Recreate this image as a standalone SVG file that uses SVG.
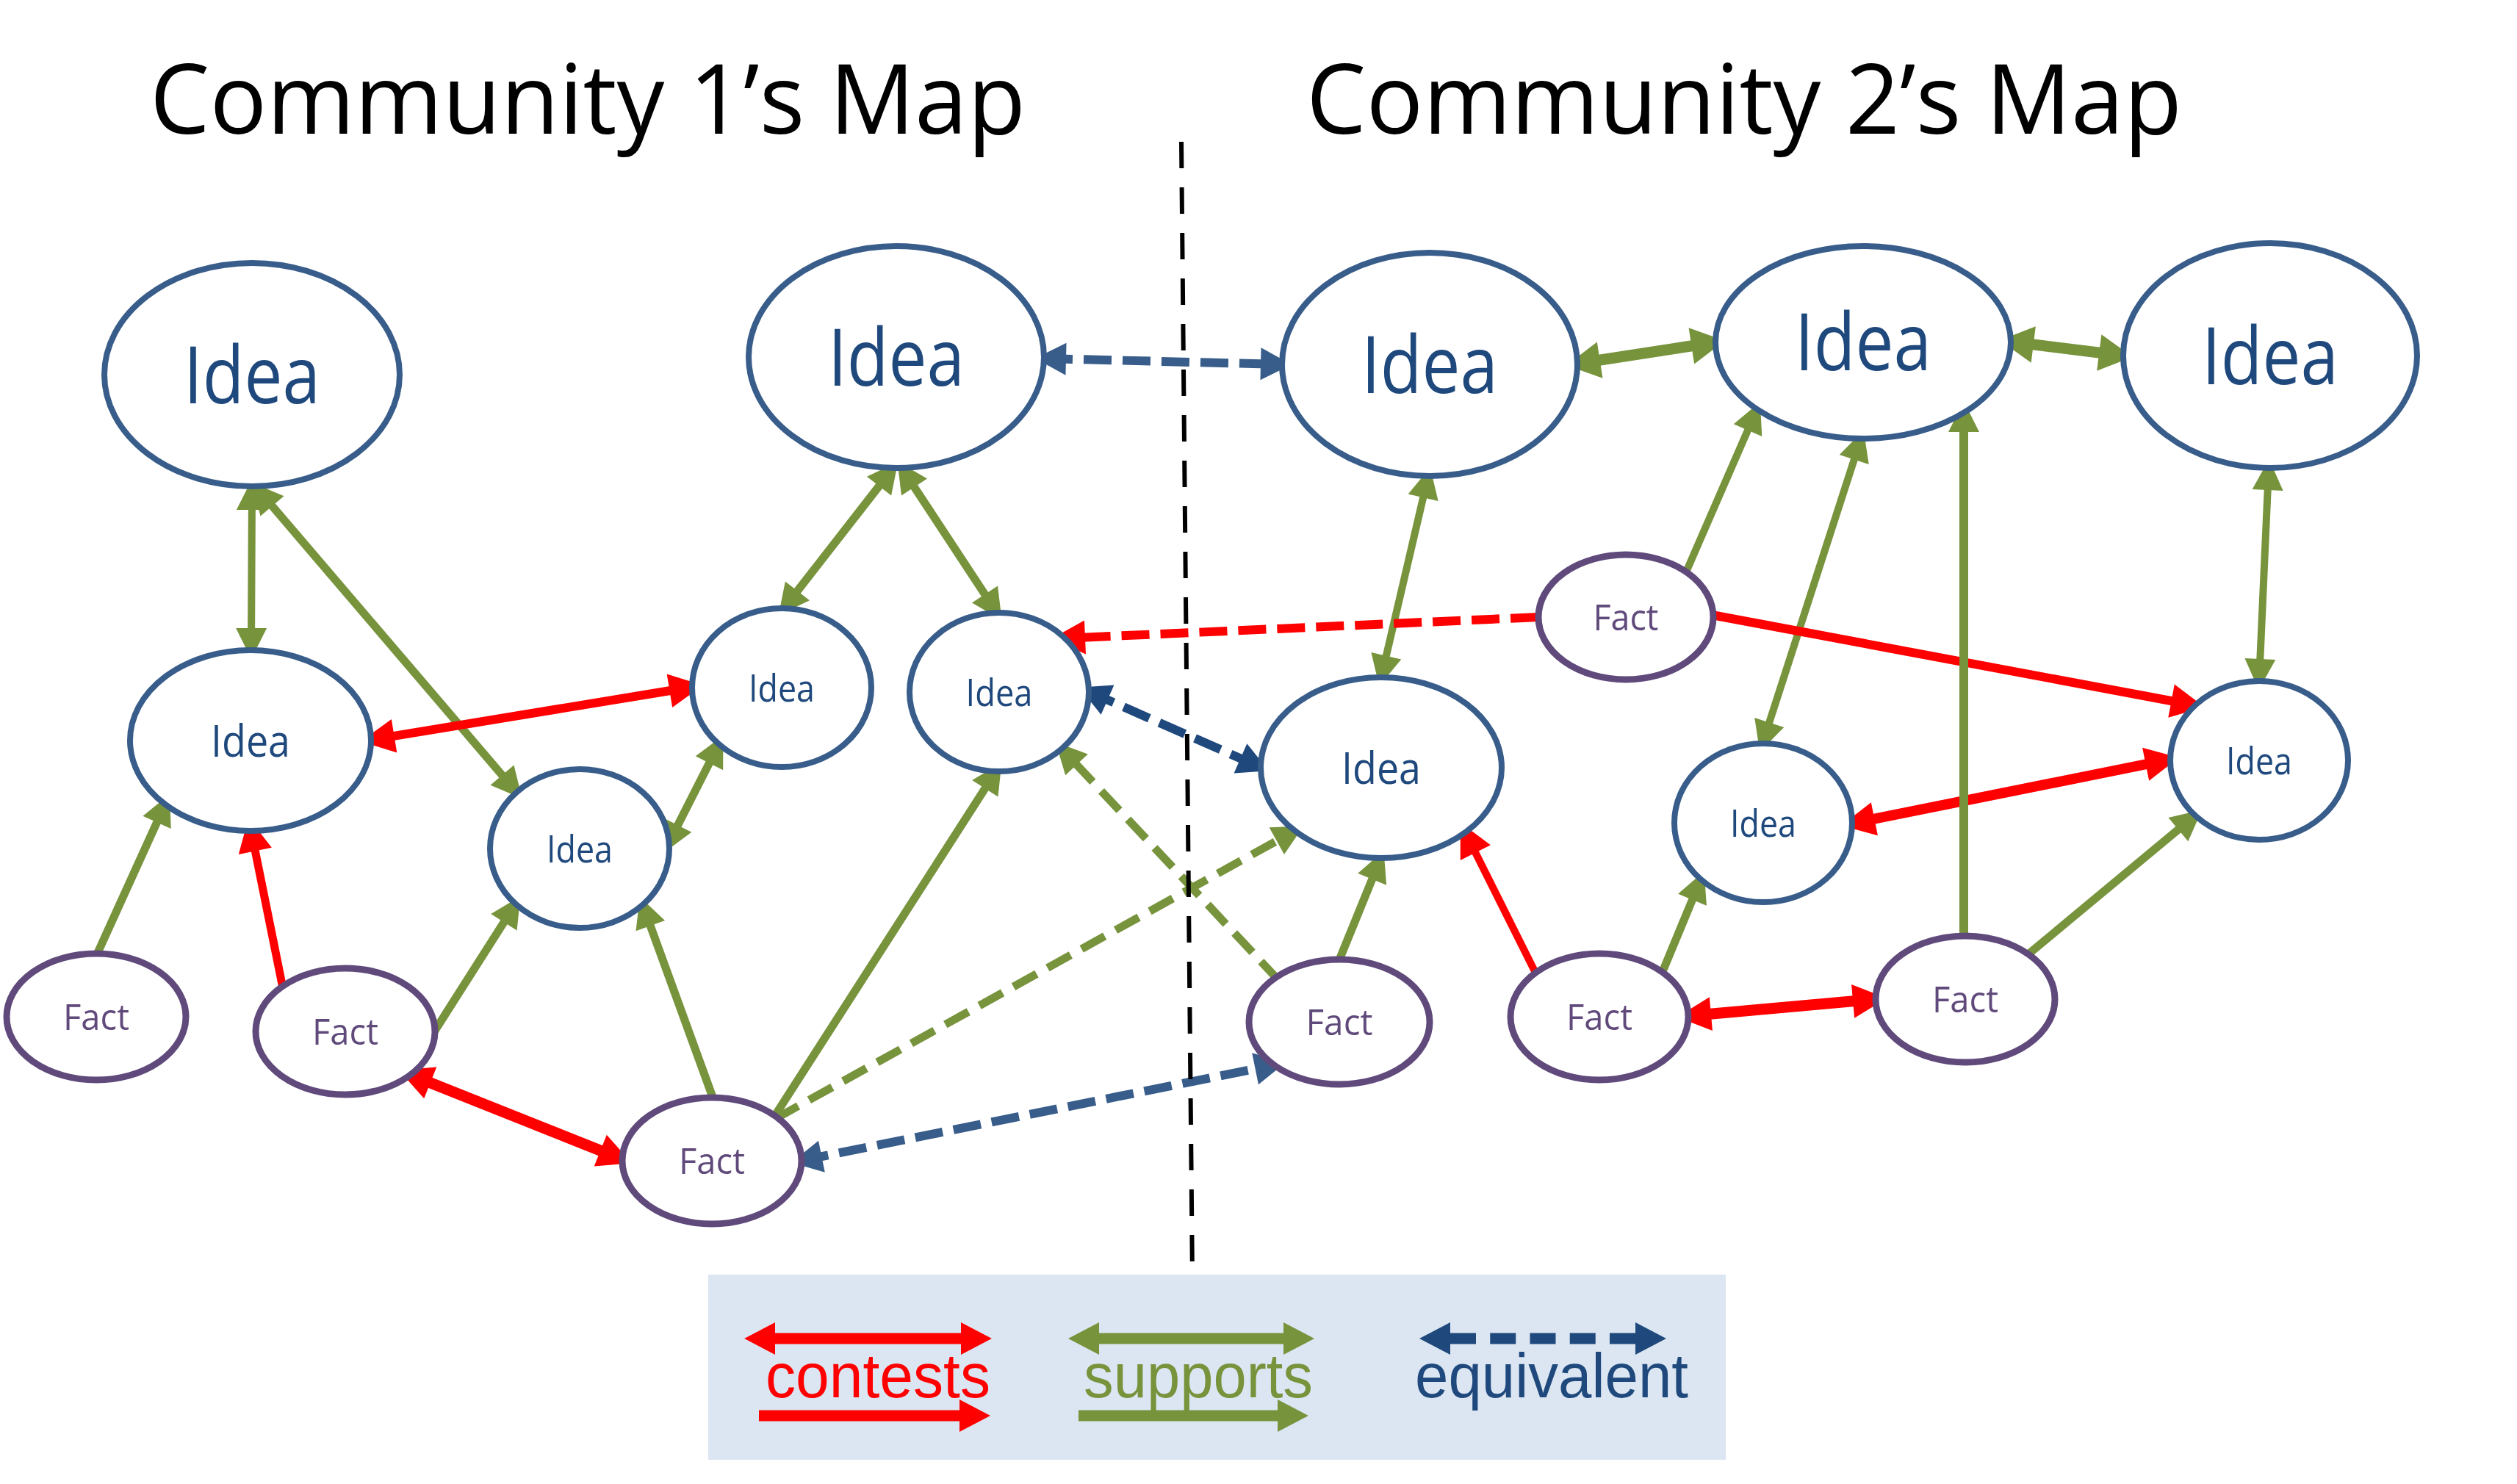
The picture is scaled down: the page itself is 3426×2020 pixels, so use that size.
<svg xmlns="http://www.w3.org/2000/svg" width="3426" height="2020" viewBox="0 0 3426 2020">
<style>
.idea ellipse{fill:#fff;stroke:#385d8a;stroke-width:8}
.fact ellipse{fill:#fff;stroke:#604a7b;stroke-width:9}
.idea text{fill:#1f497d;font-family:"Open Sans","Liberation Sans",sans-serif;text-anchor:middle}
.fact text{fill:#604a7b;font-family:"Open Sans","Liberation Sans",sans-serif;text-anchor:middle;font-size:50px}
.big text{font-size:108px}
.mid text{font-size:60px}
.small text{font-size:52px}
.title{font-family:"Open Sans","Liberation Sans",sans-serif;font-size:132px;fill:#000}
#connectors path{fill:none;stroke-linecap:butt}
.g{stroke:#77933c}
.r{stroke:#ff0000}
.b{stroke:#385d8a}
.db{stroke:#1f497d}
.dash{stroke-dasharray:38 15}
.gd{stroke-dasharray:36 17}
.lgtxt{font-family:"Liberation Sans",Arial,sans-serif;font-size:85px}
</style>
<defs>
<marker id="mg" markerUnits="userSpaceOnUse" markerWidth="42" markerHeight="42" refX="30" refY="21" orient="auto-start-reverse" overflow="visible"><path d="M0,0 L42,21 L0,42 z" fill="#77933c"/></marker>
<marker id="mgT" markerUnits="userSpaceOnUse" markerWidth="46" markerHeight="50" refX="32" refY="25" orient="auto-start-reverse" overflow="visible"><path d="M0,0 L46,25 L0,50 z" fill="#77933c"/></marker>
<marker id="mr" markerUnits="userSpaceOnUse" markerWidth="46" markerHeight="46" refX="32" refY="23" orient="auto-start-reverse" overflow="visible"><path d="M0,0 L46,23 L0,46 z" fill="#ff0000"/></marker>
<marker id="mb" markerUnits="userSpaceOnUse" markerWidth="42" markerHeight="44" refX="29" refY="22" orient="auto-start-reverse" overflow="visible"><path d="M0,0 L42,22 L0,44 z" fill="#385d8a"/></marker>
<marker id="mdb" markerUnits="userSpaceOnUse" markerWidth="42" markerHeight="44" refX="29" refY="22" orient="auto-start-reverse" overflow="visible"><path d="M0,0 L42,22 L0,44 z" fill="#1f497d"/></marker>
<marker id="lr" markerUnits="userSpaceOnUse" markerWidth="42" markerHeight="44" refX="0" refY="22" orient="auto-start-reverse" overflow="visible"><path d="M0,0 L42,22 L0,44 z" fill="#ff0000"/></marker>
<marker id="lg" markerUnits="userSpaceOnUse" markerWidth="42" markerHeight="44" refX="0" refY="22" orient="auto-start-reverse" overflow="visible"><path d="M0,0 L42,22 L0,44 z" fill="#77933c"/></marker>
<marker id="lb" markerUnits="userSpaceOnUse" markerWidth="42" markerHeight="44" refX="0" refY="22" orient="auto-start-reverse" overflow="visible"><path d="M0,0 L42,22 L0,44 z" fill="#1f497d"/></marker>
</defs>
<rect width="3426" height="2020" fill="#fff"/>
<text class="title" x="204" y="182" textLength="1192" lengthAdjust="spacingAndGlyphs">Community 1’s Map</text>
<text class="title" x="1778" y="182" textLength="1192" lengthAdjust="spacingAndGlyphs">Community 2’s Map</text>

<g id="connectors">
<path class="g" stroke-width="10" marker-start="url(#mg)" marker-end="url(#mg)" d="M343,664 L342,885"/>
<path class="g" stroke-width="11" marker-start="url(#mg)" marker-end="url(#mg)" d="M351,666 L703,1078"/>
<path class="g" stroke-width="11" marker-start="url(#mg)" marker-end="url(#mg)" d="M909,1150 L979,1012"/>
<path class="g" stroke-width="11" marker-start="url(#mg)" marker-end="url(#mg)" d="M1215,638 L1067,828"/>
<path class="g" stroke-width="11" marker-start="url(#mg)" marker-end="url(#mg)" d="M1228,638 L1357,834"/>
<path class="g" stroke-width="10" marker-start="url(#mg)" marker-end="url(#mg)" d="M1944,648 L1880,922"/>
<path class="g" stroke-width="10" marker-start="url(#mg)" marker-end="url(#mg)" d="M2533,597 L2399,1012"/>
<path class="g" stroke-width="10" marker-start="url(#mg)" marker-end="url(#mg)" d="M3088,637 L3075,927"/>
<path class="g" stroke-width="15" marker-start="url(#mgT)" marker-end="url(#mgT)" d="M2146,495 L2334,466"/>
<path class="g" stroke-width="15" marker-start="url(#mgT)" marker-end="url(#mgT)" d="M2736,465 L2889,484"/>
<path class="g" stroke-width="11" marker-end="url(#mg)" d="M132,1299 L226,1092"/>
<path class="g" stroke-width="11" marker-end="url(#mg)" d="M590,1406 L702,1230"/>
<path class="g" stroke-width="11" marker-end="url(#mg)" d="M971,1496 L875,1232"/>
<path class="g" stroke-width="11" marker-end="url(#mg)" d="M1052,1523 L1357,1048"/>
<path class="g" stroke-width="11" marker-end="url(#mg)" d="M1822,1309 L1879,1169"/>
<path class="g" stroke-width="10" marker-end="url(#mg)" d="M2294,781 L2391,558"/>
<path class="g" stroke-width="11" marker-end="url(#mg)" d="M2262,1325 L2315,1197"/>
<path class="g" stroke-width="11" marker-end="url(#mg)" d="M2757,1302 L2988,1110"/>
<path class="g gd" stroke-width="11" marker-end="url(#mg)" d="M1055,1523 L1764,1130"/>
<path class="g gd" stroke-width="11" marker-end="url(#mg)" d="M1741,1335 L1445,1019"/>
<path class="r" stroke-width="12" marker-start="url(#mr)" marker-end="url(#mr)" d="M505,1007 L943,935"/>
<path class="r" stroke-width="15" marker-start="url(#mr)" marker-end="url(#mr)" d="M556,1462 L847,1578"/>
<path class="r" stroke-width="14" marker-start="url(#mr)" marker-end="url(#mr)" d="M2520,1121 L2952,1034"/>
<path class="r" stroke-width="15" marker-start="url(#mr)" marker-end="url(#mr)" d="M2297,1383 L2554,1360"/>
<path class="r" stroke-width="11" marker-end="url(#mr)" d="M385,1345 L341,1127"/>
<path class="r" stroke-width="10" marker-end="url(#mr)" d="M2090,1324 L1994,1132"/>
<path class="r" stroke-width="12" marker-end="url(#mr)" d="M2330,837 L2987,960"/>
<path class="r dash" stroke-width="12" marker-end="url(#mr)" d="M2094,840 L1445,869"/>
<path class="g" stroke-width="12" marker-end="url(#mg)" d="M2673,1276 L2673,558"/>
<path class="b dash" stroke-width="12" marker-start="url(#mb)" marker-end="url(#mb)" d="M1422,488 L1745,496"/>
<path class="b dash" stroke-width="12" marker-start="url(#mb)" marker-end="url(#mb)" d="M1090,1580 L1737,1449"/>
<path class="db dash" stroke-width="12" marker-start="url(#mdb)" marker-end="url(#mdb)" d="M1481,941 L1715,1044"/>
</g>

<path id="divider" d="M1608,193 L1623,1741" stroke="#000" stroke-width="6" stroke-dasharray="36 26" fill="none"/>

<g id="n-A" class="idea big"><ellipse cx="343" cy="510" rx="201" ry="152"/><text x="343" y="549" textLength="186" lengthAdjust="spacingAndGlyphs">Idea</text></g>
<g id="n-B" class="idea big"><ellipse cx="1220" cy="486" rx="201" ry="151"/><text x="1220" y="525" textLength="186" lengthAdjust="spacingAndGlyphs">Idea</text></g>
<g id="n-C" class="idea mid"><ellipse cx="341" cy="1008" rx="164" ry="123"/><text x="341" y="1030" textLength="108" lengthAdjust="spacingAndGlyphs">Idea</text></g>
<g id="n-D" class="idea small"><ellipse cx="1064" cy="936" rx="122" ry="108"/><text x="1064" y="955" textLength="90" lengthAdjust="spacingAndGlyphs">Idea</text></g>
<g id="n-E" class="idea small"><ellipse cx="1360" cy="942" rx="122" ry="108"/><text x="1360" y="961" textLength="91" lengthAdjust="spacingAndGlyphs">Idea</text></g>
<g id="n-F" class="idea small"><ellipse cx="789" cy="1155" rx="122" ry="108"/><text x="789" y="1174" textLength="90" lengthAdjust="spacingAndGlyphs">Idea</text></g>
<g id="n-G" class="fact"><ellipse cx="131" cy="1384" rx="122" ry="86"/><text x="131" y="1402" textLength="90" lengthAdjust="spacingAndGlyphs">Fact</text></g>
<g id="n-H" class="fact"><ellipse cx="470" cy="1404" rx="122" ry="86"/><text x="470" y="1422" textLength="90" lengthAdjust="spacingAndGlyphs">Fact</text></g>
<g id="n-I" class="fact"><ellipse cx="969" cy="1580" rx="122" ry="86"/><text x="969" y="1598" textLength="90" lengthAdjust="spacingAndGlyphs">Fact</text></g>
<g id="n-J" class="idea big"><ellipse cx="1946" cy="496" rx="201" ry="152"/><text x="1946" y="535" textLength="186" lengthAdjust="spacingAndGlyphs">Idea</text></g>
<g id="n-K" class="idea big"><ellipse cx="2536" cy="466" rx="201" ry="131"/><text x="2536" y="504" textLength="186" lengthAdjust="spacingAndGlyphs">Idea</text></g>
<g id="n-L" class="idea big"><ellipse cx="3090" cy="484" rx="200" ry="153"/><text x="3090" y="523" textLength="186" lengthAdjust="spacingAndGlyphs">Idea</text></g>
<g id="n-M" class="idea mid"><ellipse cx="1880" cy="1045" rx="164" ry="123"/><text x="1880" y="1067" textLength="108" lengthAdjust="spacingAndGlyphs">Idea</text></g>
<g id="n-N" class="fact"><ellipse cx="2213" cy="840" rx="119" ry="85"/><text x="2213" y="858" textLength="89" lengthAdjust="spacingAndGlyphs">Fact</text></g>
<g id="n-O" class="idea small"><ellipse cx="2400" cy="1120" rx="121" ry="108"/><text x="2400" y="1139" textLength="90" lengthAdjust="spacingAndGlyphs">Idea</text></g>
<g id="n-P" class="idea small"><ellipse cx="3075" cy="1035" rx="121" ry="108"/><text x="3075" y="1054" textLength="90" lengthAdjust="spacingAndGlyphs">Idea</text></g>
<g id="n-Q" class="fact"><ellipse cx="1823" cy="1391" rx="123" ry="85"/><text x="1823" y="1409" textLength="91" lengthAdjust="spacingAndGlyphs">Fact</text></g>
<g id="n-R" class="fact"><ellipse cx="2177" cy="1384" rx="121" ry="86"/><text x="2177" y="1402" textLength="90" lengthAdjust="spacingAndGlyphs">Fact</text></g>
<g id="n-S" class="fact"><ellipse cx="2675" cy="1360" rx="122" ry="86"/><text x="2675" y="1378" textLength="90" lengthAdjust="spacingAndGlyphs">Fact</text></g>

<g id="legend">
<rect x="964" y="1735" width="1385" height="252" fill="#dce6f2"/>
<path d="M1055,1822 L1308,1822" stroke="#ff0000" stroke-width="15" marker-start="url(#lr)" marker-end="url(#lr)"/>
<text class="lgtxt" x="1042" y="1902" fill="#ff0000" textLength="306" lengthAdjust="spacingAndGlyphs">contests</text>
<path d="M1033,1927 L1306,1927" stroke="#ff0000" stroke-width="15" marker-end="url(#lr)"/>
<path d="M1496,1822 L1747,1822" stroke="#77933c" stroke-width="15" marker-start="url(#lg)" marker-end="url(#lg)"/>
<text class="lgtxt" x="1475" y="1902" fill="#77933c" textLength="312" lengthAdjust="spacingAndGlyphs">supports</text>
<path d="M1468,1927 L1739,1927" stroke="#77933c" stroke-width="15" marker-end="url(#lg)"/>
<path d="M1974,1822 L2226,1822" stroke="#1f497d" stroke-width="15" stroke-dasharray="35 19.25" marker-start="url(#lb)" marker-end="url(#lb)"/>
<text class="lgtxt" x="1926" y="1902" fill="#1f497d" textLength="372" lengthAdjust="spacingAndGlyphs">equivalent</text>
</g>
</svg>
